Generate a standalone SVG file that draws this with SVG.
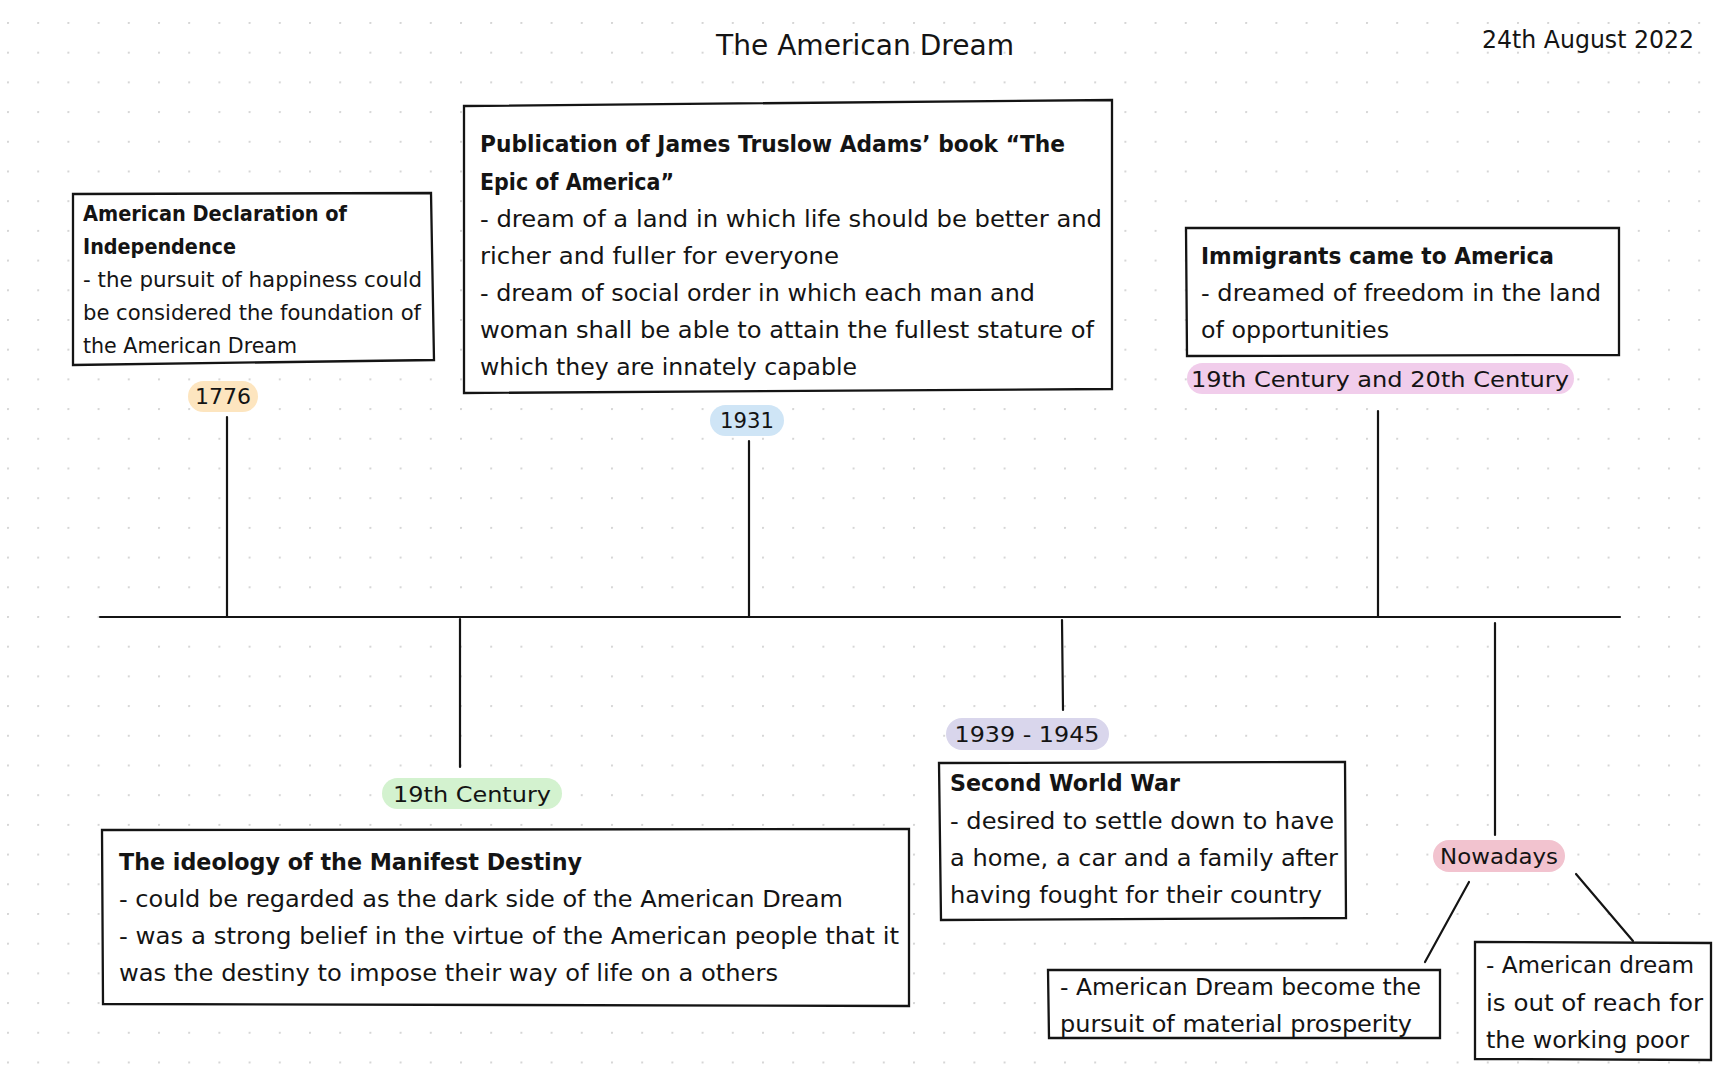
<svg xmlns="http://www.w3.org/2000/svg" width="1728" height="1080" viewBox="0 0 1728 1080">
<defs>
<pattern id="dots" x="7" y="22" width="30.2" height="29.7" patternUnits="userSpaceOnUse">
<circle cx="1" cy="1" r="1.1" fill="#d2d2d2"/>
</pattern>
<style>
.t{font-family:"DejaVu Sans","Open Sans",sans-serif;fill:#141414;}
.b{font-size:23px;}
.s{font-size:21px;}
.h{font-weight:bold;}
.box{fill:#ffffff;stroke:#141414;stroke-width:2.3;stroke-linejoin:miter;}
.ln{stroke:#141414;stroke-width:2.2;fill:none;stroke-linecap:round;}
.lbl{font-size:22px;text-anchor:middle;}
</style>
</defs>
<rect x="0" y="0" width="1728" height="1080" fill="#ffffff"/>
<rect x="0" y="0" width="1728" height="1080" fill="url(#dots)"/>

<g id="title">
<text class="t" x="865" y="55" font-size="28" text-anchor="middle" textLength="298" lengthAdjust="spacingAndGlyphs">The American Dream</text>
</g>
<g id="date">
<text class="t" x="1482" y="48" font-size="24" textLength="212" lengthAdjust="spacingAndGlyphs">24th August 2022</text>
</g>

<g id="connectors">
<line class="ln" x1="100" y1="617" x2="1620" y2="617"/>
<line class="ln" x1="227" y1="417" x2="227" y2="617"/>
<line class="ln" x1="749" y1="441" x2="749" y2="617"/>
<line class="ln" x1="1378" y1="411" x2="1378" y2="617"/>
<line class="ln" x1="460" y1="619" x2="460" y2="767"/>
<line class="ln" x1="1062" y1="620" x2="1063" y2="710"/>
<line class="ln" x1="1495" y1="623" x2="1495" y2="835"/>
<line class="ln" x1="1469" y1="882" x2="1425" y2="962"/>
<line class="ln" x1="1576" y1="874" x2="1633" y2="941"/>
</g>

<g id="node-1776">
<path class="box" d="M73,194 L431,193 L434,360 L73,365 Z"/>
<text class="t s h" x="83" y="221" textLength="264" lengthAdjust="spacingAndGlyphs">American Declaration of</text>
<text class="t s h" x="83" y="254" textLength="153" lengthAdjust="spacingAndGlyphs">Independence</text>
<text class="t s" x="83" y="287" textLength="339" lengthAdjust="spacingAndGlyphs">- the pursuit of happiness could</text>
<text class="t s" x="83" y="320" textLength="338" lengthAdjust="spacingAndGlyphs">be considered the foundation of</text>
<text class="t s" x="83" y="353" textLength="214" lengthAdjust="spacingAndGlyphs">the American Dream</text>
<rect x="188" y="381" width="70" height="31" rx="15.5" fill="#fde5bf"/>
<text class="t lbl" x="223" y="404" textLength="56" lengthAdjust="spacingAndGlyphs">1776</text>
</g>

<g id="node-1931">
<path class="box" d="M464,106 L1112,100 L1112,389 L464,393 Z"/>
<text class="t b h" x="480" y="152" textLength="585" lengthAdjust="spacingAndGlyphs">Publication of James Truslow Adams’ book “The</text>
<text class="t b h" x="480" y="190" textLength="194" lengthAdjust="spacingAndGlyphs">Epic of America”</text>
<text class="t b" x="480" y="227" textLength="622" lengthAdjust="spacingAndGlyphs">- dream of a land in which life should be better and</text>
<text class="t b" x="480" y="264" textLength="359" lengthAdjust="spacingAndGlyphs">richer and fuller for everyone</text>
<text class="t b" x="480" y="301" textLength="555" lengthAdjust="spacingAndGlyphs">- dream of social order in which each man and</text>
<text class="t b" x="480" y="338" textLength="614" lengthAdjust="spacingAndGlyphs">woman shall be able to attain the fullest stature of</text>
<text class="t b" x="480" y="375" textLength="377" lengthAdjust="spacingAndGlyphs">which they are innately capable</text>
<rect x="710" y="405" width="74" height="31" rx="15.5" fill="#cfe5f6"/>
<text class="t lbl" x="747" y="428" textLength="54" lengthAdjust="spacingAndGlyphs">1931</text>
</g>

<g id="node-immigrants">
<path class="box" d="M1186,228 L1619,228 L1619,355 L1187,356 Z"/>
<text class="t b h" x="1201" y="264" textLength="353" lengthAdjust="spacingAndGlyphs">Immigrants came to America</text>
<text class="t b" x="1201" y="301" textLength="400" lengthAdjust="spacingAndGlyphs">- dreamed of freedom in the land</text>
<text class="t b" x="1201" y="338" textLength="188" lengthAdjust="spacingAndGlyphs">of opportunities</text>
<rect x="1187" y="363" width="387" height="31" rx="15.5" fill="#f1cdeb"/>
<text class="t lbl" x="1380" y="387" textLength="378" lengthAdjust="spacingAndGlyphs">19th Century and 20th Century</text>
</g>

<g id="node-manifest">
<rect x="382" y="778" width="180" height="31" rx="15.5" fill="#d3f2cf"/>
<text class="t lbl" x="472" y="802" textLength="158" lengthAdjust="spacingAndGlyphs">19th Century</text>
<path class="box" d="M102,830 L909,829 L909,1006 L103,1004 Z"/>
<text class="t b h" x="119" y="870" textLength="463" lengthAdjust="spacingAndGlyphs">The ideology of the Manifest Destiny</text>
<text class="t b" x="119" y="907" textLength="724" lengthAdjust="spacingAndGlyphs">- could be regarded as the dark side of the American Dream</text>
<text class="t b" x="119" y="944" textLength="780" lengthAdjust="spacingAndGlyphs">- was a strong belief in the virtue of the American people that it</text>
<text class="t b" x="119" y="981" textLength="659" lengthAdjust="spacingAndGlyphs">was the destiny to impose their way of life on a others</text>
</g>

<g id="node-ww2">
<rect x="946" y="718" width="163" height="32" rx="16" fill="#d9d6ec"/>
<text class="t lbl" x="1027" y="742" textLength="145" lengthAdjust="spacingAndGlyphs">1939 - 1945</text>
<path class="box" d="M939,763 L1345,762 L1346,918 L941,920 Z"/>
<text class="t b h" x="950" y="791" textLength="230" lengthAdjust="spacingAndGlyphs">Second World War</text>
<text class="t b" x="950" y="829" textLength="384" lengthAdjust="spacingAndGlyphs">- desired to settle down to have</text>
<text class="t b" x="950" y="866" textLength="388" lengthAdjust="spacingAndGlyphs">a home, a car and a family after</text>
<text class="t b" x="950" y="903" textLength="372" lengthAdjust="spacingAndGlyphs">having fought for their country</text>
</g>

<g id="node-nowadays">
<rect x="1433" y="840" width="132" height="32" rx="16" fill="#f2c3cf"/>
<text class="t lbl" x="1499" y="864" textLength="118" lengthAdjust="spacingAndGlyphs">Nowadays</text>
</g>

<g id="node-prosperity">
<path class="box" d="M1048,970 L1440,970 L1440,1038 L1049,1038 Z"/>
<text class="t b" x="1060" y="995" textLength="361" lengthAdjust="spacingAndGlyphs">- American Dream become the</text>
<text class="t b" x="1060" y="1032" textLength="352" lengthAdjust="spacingAndGlyphs">pursuit of material prosperity</text>
</g>

<g id="node-poor">
<path class="box" d="M1475,942 L1711,943 L1711,1060 L1475,1059 Z"/>
<text class="t b" x="1486" y="973" textLength="208" lengthAdjust="spacingAndGlyphs">- American dream</text>
<text class="t b" x="1486" y="1011" textLength="217" lengthAdjust="spacingAndGlyphs">is out of reach for</text>
<text class="t b" x="1486" y="1048" textLength="203" lengthAdjust="spacingAndGlyphs">the working poor</text>
</g>
</svg>
